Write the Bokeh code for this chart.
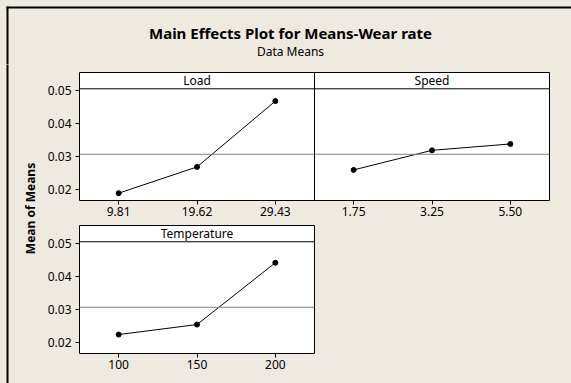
import numpy as np
from bokeh.plotting import figure
from bokeh.layouts import column, row
from bokeh.models import Range1d, FixedTicker, Span, Label, PrintfTickFormatter
from bokeh.embed import file_html
from bokeh.resources import INLINE

# ---- data ----
title_text = "Main Effects Plot for Means-Wear rate"
subtitle_text = "Data Means"
y_label_text = "Mean of Means"

factor_names = ["Load", "Speed", "Temperature"]
load_levels = ["9.81", "19.62", "29.43"]
load_means = [0.0190, 0.0269, 0.0467]
speed_levels = ["1.75", "3.25", "5.50"]
speed_means = [0.0260, 0.0319, 0.0338]
temp_levels = ["100", "150", "200"]
temp_means = [0.0225, 0.0255, 0.0441]
y_ticks = [0.02, 0.03, 0.04, 0.05]

grand_mean = float(np.mean(load_means + speed_means + temp_means))

# ---- style ----
BG = "#EEEAE0"
FONT = "Noto Sans"
Y0, Y1 = 0.0168, 0.0553
STRIP = 0.0504
LW = 44          # width of the y-label strip
ML = 78 - LW     # left border of the panel figures
MR = 571 - LW - ML - 471


def style_panel(p, xticks, overrides):
    p.background_fill_color = "white"
    p.border_fill_color = BG
    p.outline_line_color = "black"
    p.outline_line_alpha = 1.0
    p.outline_line_width = 1
    p.grid.visible = False
    for ax in (p.xaxis[0], p.yaxis[0]):
        ax.axis_line_color = None
        ax.major_tick_in = 0
        ax.major_tick_out = 4
        ax.major_tick_line_color = "black"
        ax.minor_tick_line_color = None
        ax.major_label_text_font = FONT
        ax.major_label_text_font_size = "12px"
        ax.major_label_text_color = "black"
    p.xaxis.major_label_standoff = 2
    p.yaxis.major_label_standoff = 4
    p.xaxis.ticker = FixedTicker(ticks=xticks)
    p.xaxis.major_label_overrides = overrides
    p.yaxis.ticker = FixedTicker(ticks=y_ticks)
    p.yaxis.formatter = PrintfTickFormatter(format="%.2f")
    p.add_layout(Span(location=STRIP, dimension="width", line_color="black", line_width=1))
    p.add_layout(Span(location=grand_mean, dimension="width", line_color="#808080", line_width=1))


def add_group(p, name, levels, means, offset):
    xs = [offset + i + 1 for i in range(len(levels))]
    p.line(xs, means, line_color="black", line_width=1)
    p.scatter(xs, means, size=5, color="black")
    p.add_layout(Label(x=offset + (len(levels) + 1) / 2, y=(STRIP + Y1) / 2, text=name,
                       text_align="center", text_baseline="middle",
                       text_font=FONT, text_font_size="12px", text_color="black"))


def blank(w, h):
    f = figure(width=w, height=h, x_range=Range1d(0, w), y_range=Range1d(0, h),
               min_border=0, x_axis_location=None, y_axis_location=None,
               output_backend="svg", toolbar_location=None)
    f.background_fill_color = BG
    f.border_fill_color = BG
    f.outline_line_color = None
    f.grid.visible = False
    return f


# ---- top panel (Load + Speed) ----
n_top = len(load_levels) + len(speed_levels)
top = figure(width=571 - LW, height=158, x_range=Range1d(0.5, n_top + 0.5), y_range=Range1d(Y0, Y1),
             min_border_left=ML, min_border_right=MR, min_border_top=8,
             min_border_bottom=22, output_backend="svg", toolbar_location=None)
top_ticks = list(range(1, n_top + 1))
top_over = {t: lab for t, lab in zip(top_ticks, load_levels + speed_levels)}
style_panel(top, top_ticks, top_over)
add_group(top, factor_names[0], load_levels, load_means, 0)
add_group(top, factor_names[1], speed_levels, speed_means, len(load_levels))
top.add_layout(Span(location=len(load_levels) + 0.5, dimension="height", line_color="black", line_width=1))

# ---- bottom panel (Temperature) ----
n_bot = len(temp_levels)
bot_w = ML + 236 + MR
bot = figure(width=bot_w, height=161, x_range=Range1d(0.5, n_bot + 0.5), y_range=Range1d(Y0, Y1),
             min_border_left=ML, min_border_right=MR, min_border_top=3,
             min_border_bottom=30, output_backend="svg", toolbar_location=None)
bot_ticks = list(range(1, n_bot + 1))
bot_over = {t: lab for t, lab in zip(bot_ticks, temp_levels)}
style_panel(bot, bot_ticks, bot_over)
add_group(bot, factor_names[2], temp_levels, temp_means, 0)
filler = blank(571 - LW - bot_w, 161)

# ---- title strip ----
tf = blank(571, 64)
tf.line([6, 580], [57, 57], line_color="black", line_width=2)
tf.line([7, 7], [-10, 58], line_color="black", line_width=2)
tf.add_layout(Label(x=290, y=32, text=title_text, text_align="center", text_baseline="alphabetic",
                    text_font=FONT, text_font_size="15px", text_font_style="bold", text_color="black"))
tf.add_layout(Label(x=290, y=13.5, text=subtitle_text, text_align="center", text_baseline="alphabetic",
                    text_font=FONT, text_font_size="12px", text_color="black"))

# ---- y label strip ----
lf = blank(LW, 319)
lf.line([7, 7], [-10, 330], line_color="black", line_width=2)
lf.add_layout(Label(x=30, y=175, text=y_label_text, angle=np.pi / 2, text_align="center",
                    text_baseline="middle", text_font=FONT, text_font_size="12px",
                    text_font_style="bold", text_color="black"))

bgs = {"background-color": BG}
layout = column(tf,
                row(lf,
                    column(top, row(bot, filler, styles=bgs), styles=bgs),
                    styles=bgs),
                styles=bgs)

with open("out.html", "w") as fh:
    fh.write(file_html(layout, INLINE))
